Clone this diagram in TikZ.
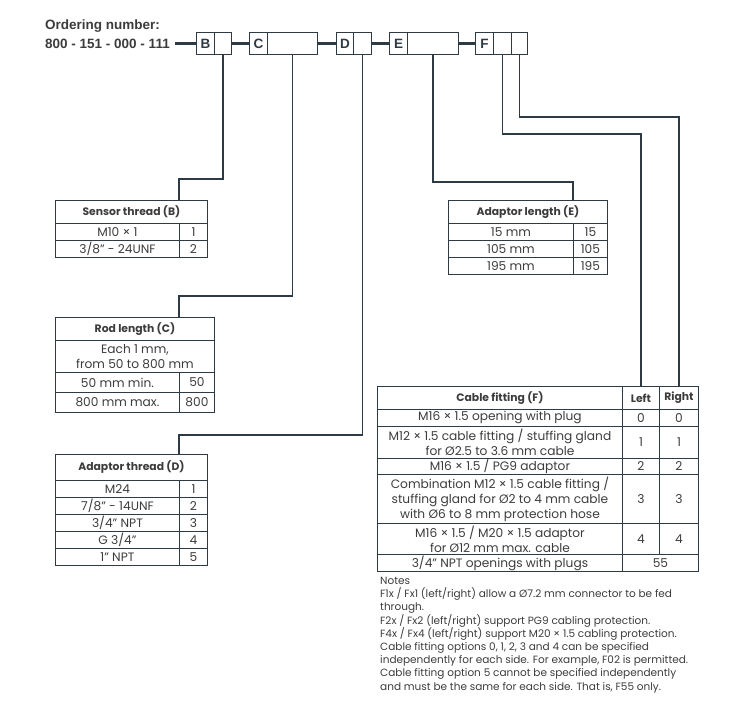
\documentclass[tikz,border=0pt]{standalone}
\usepackage{fontspec}
\setmainfont{Poppins}
\newfontfamily\hdfont{Liberation Sans}
\usetikzlibrary{positioning}
\definecolor{ln}{HTML}{2E3A44}
\definecolor{tx}{HTML}{3C3C3C}
\begin{document}
\begin{tikzpicture}[x=1pt,y=-1pt,font=\fontsize{12.2}{15}\selectfont,text=tx]
\tikzstyle{c}=[draw=ln,line width=0.9pt,inner sep=0pt,anchor=north west,align=center]
\tikzstyle{hd}=[c,font=\fontsize{10.8}{15}\selectfont\bfseries]
\tikzstyle{ob}=[draw=ln,line width=1pt,minimum height=22,inner sep=0pt,anchor=north west,font=\hdfont\bfseries\fontsize{13.5}{14}\selectfont,text=ln]
\tikzstyle{bar}=[draw=ln,line width=2.6pt]
\tikzstyle{lk}=[draw=ln,line width=1.3pt]
\useasboundingbox (0,0) rectangle (733,715);
\node[anchor=base west,inner sep=0pt,font=\hdfont\bfseries\fontsize{13.5}{14}\selectfont] (title) at (45,29) {Ordering number:};
\node[anchor=base west,inner sep=0pt,font=\hdfont\bfseries\fontsize{13.5}{14}\selectfont] (num) at (45,48) {800 - 151 - 000 - 111};
\node[ob,minimum width=18] (B) at (196,32) {B};
\node[ob,minimum width=17] (Bv) at (214,32) {};
\node[ob,minimum width=18] (C) at (249,32) {C};
\node[ob,minimum width=50] (Cv) at (267,32) {};
\node[ob,minimum width=17] (D) at (336,32) {D};
\node[ob,minimum width=18] (Dv) at (353,32) {};
\node[ob,minimum width=18] (E) at (389,32) {E};
\node[ob,minimum width=51] (Ev) at (407,32) {};
\node[ob,minimum width=18] (F) at (475,32) {F};
\node[ob,minimum width=18] (Fl) at (493,32) {};
\node[ob,minimum width=16] (Fr) at (511,32) {};
\draw[bar] ([xshift=5pt]B.west -| num.east) -- (B.west);
\draw[bar] (Bv.east) -- (C.west);
\draw[bar] (Cv.east) -- (D.west);
\draw[bar] (Dv.east) -- (E.west);
\draw[bar] (Ev.east) -- (F.west);
% sensor thread
\node[hd,minimum width=152,minimum height=23] (sh) at (55,200) {Sensor thread (B)};
\foreach \i/\t in {1/{M10 × 1},2/{3/8" - 24UNF}} {
  \node[c,minimum width=124,minimum height=17] (s\i) at (55,206+17*\i) {\t};
  \node[c,minimum width=28,minimum height=17] (sv\i) at (179,206+17*\i) {\i};
}
% rod length
\node[hd,minimum width=159,minimum height=23] (rh) at (55,317) {Rod length (C)};
\node[c,minimum width=159,minimum height=32] (r0) at (55,340) {Each 1 mm,\\from 50 to 800 mm};
\foreach \i/\t/\v in {1/{50 mm min.}/50,2/{800 mm max.}/800} {
  \node[c,minimum width=124,minimum height=20] (r\i) at (55,352+20*\i) {\t};
  \node[c,minimum width=35,minimum height=20] (rv\i) at (179,352+20*\i) {\v};
}
% adaptor thread
\node[hd,minimum width=152,minimum height=26] (dh) at (55,454) {Adaptor thread (D)};
\foreach \i/\t in {1/{M24},2/{7/8" - 14UNF},3/{3/4" NPT},4/{G 3/4"},5/{1" NPT}} {
  \node[c,minimum width=124,minimum height=17] (d\i) at (55,463+17*\i) {\t};
  \node[c,minimum width=28,minimum height=17] (dv\i) at (179,463+17*\i) {\i};
}
% adaptor length
\node[hd,minimum width=159,minimum height=23] (eh) at (448,200) {Adaptor length (E)};
\foreach \i/\t/\v in {1/{15 mm}/15,2/{105 mm}/105,3/{195 mm}/195} {
  \node[c,minimum width=125,minimum height=17] (e\i) at (448,206+17*\i) {\t};
  \node[c,minimum width=34,minimum height=17] (ev\i) at (573,206+17*\i) {\v};
}
% cable fitting
\node[hd,minimum width=245,minimum height=23] (fh) at (377,386) {Cable fitting (F)};
\node[hd,minimum width=37,minimum height=23] (fl) at (622,386) {Left};
\node[hd,minimum width=39,minimum height=23] (fr) at (659,386) {Right};
\foreach \i/\y/\h/\t in {0/409/17/{M16 × 1.5 opening with plug},
    1/426/32/{M12 × 1.5 cable fitting / stuffing gland\\for Ø2.5 to 3.6 mm cable},
    2/458/16/{M16 × 1.5 / PG9 adaptor},
    3/474/49/{Combination M12 × 1.5 cable fitting /\\stuffing gland for Ø2 to 4 mm cable\\with Ø6 to 8 mm protection hose},
    4/523/31/{M16 × 1.5 / M20 × 1.5 adaptor\\for Ø12 mm max. cable}} {
  \node[c,minimum width=245,minimum height=\h] (f\i) at (377,\y) {\t};
  \node[c,minimum width=37,minimum height=\h] (fl\i) at (622,\y) {\i};
  \node[c,minimum width=39,minimum height=\h] (fr\i) at (659,\y) {\i};
}
\node[c,minimum width=245,minimum height=17] (f5) at (377,554) {3/4" NPT openings with plugs};
\node[c,minimum width=76,minimum height=17] (fv5) at (622,554) {55};
% connectors
\draw[lk] (Bv.south) -- ++(0,124) -| (sh.north -| sv1.west);
\draw[lk] (Cv.south) -- ++(0,241) -| (rh.north -| rv1.west);
\draw[lk] (Dv.south) -- ++(0,380) -| (dh.north -| dv1.west);
\draw[lk] (Ev.south) -- ++(0,127) -| (eh.north -| ev1.west);
\draw[lk] (Fl.south) -- ++(0,79) -| (fl.north);
\draw[lk] (Fr.south) -- ++(0,62) -| (fr.north);
\node[anchor=north west,align=left,inner sep=0pt,font=\fontsize{10.5}{13.2}\selectfont] (notes) at (380,577) {Notes\\
F1x / Fx1 (left/right) allow a Ø7.2 mm connector to be fed\\
through.\\
F2x / Fx2 (left/right) support PG9 cabling protection.\\
F4x / Fx4 (left/right) support M20 × 1.5 cabling protection.\\
Cable fitting options 0, 1, 2, 3 and 4 can be specified\\
independently for each side. For example, F02 is permitted.\\
Cable fitting option 5 cannot be specified independently\\
and must be the same for each side. That is, F55 only.};
\end{tikzpicture}
\end{document}
